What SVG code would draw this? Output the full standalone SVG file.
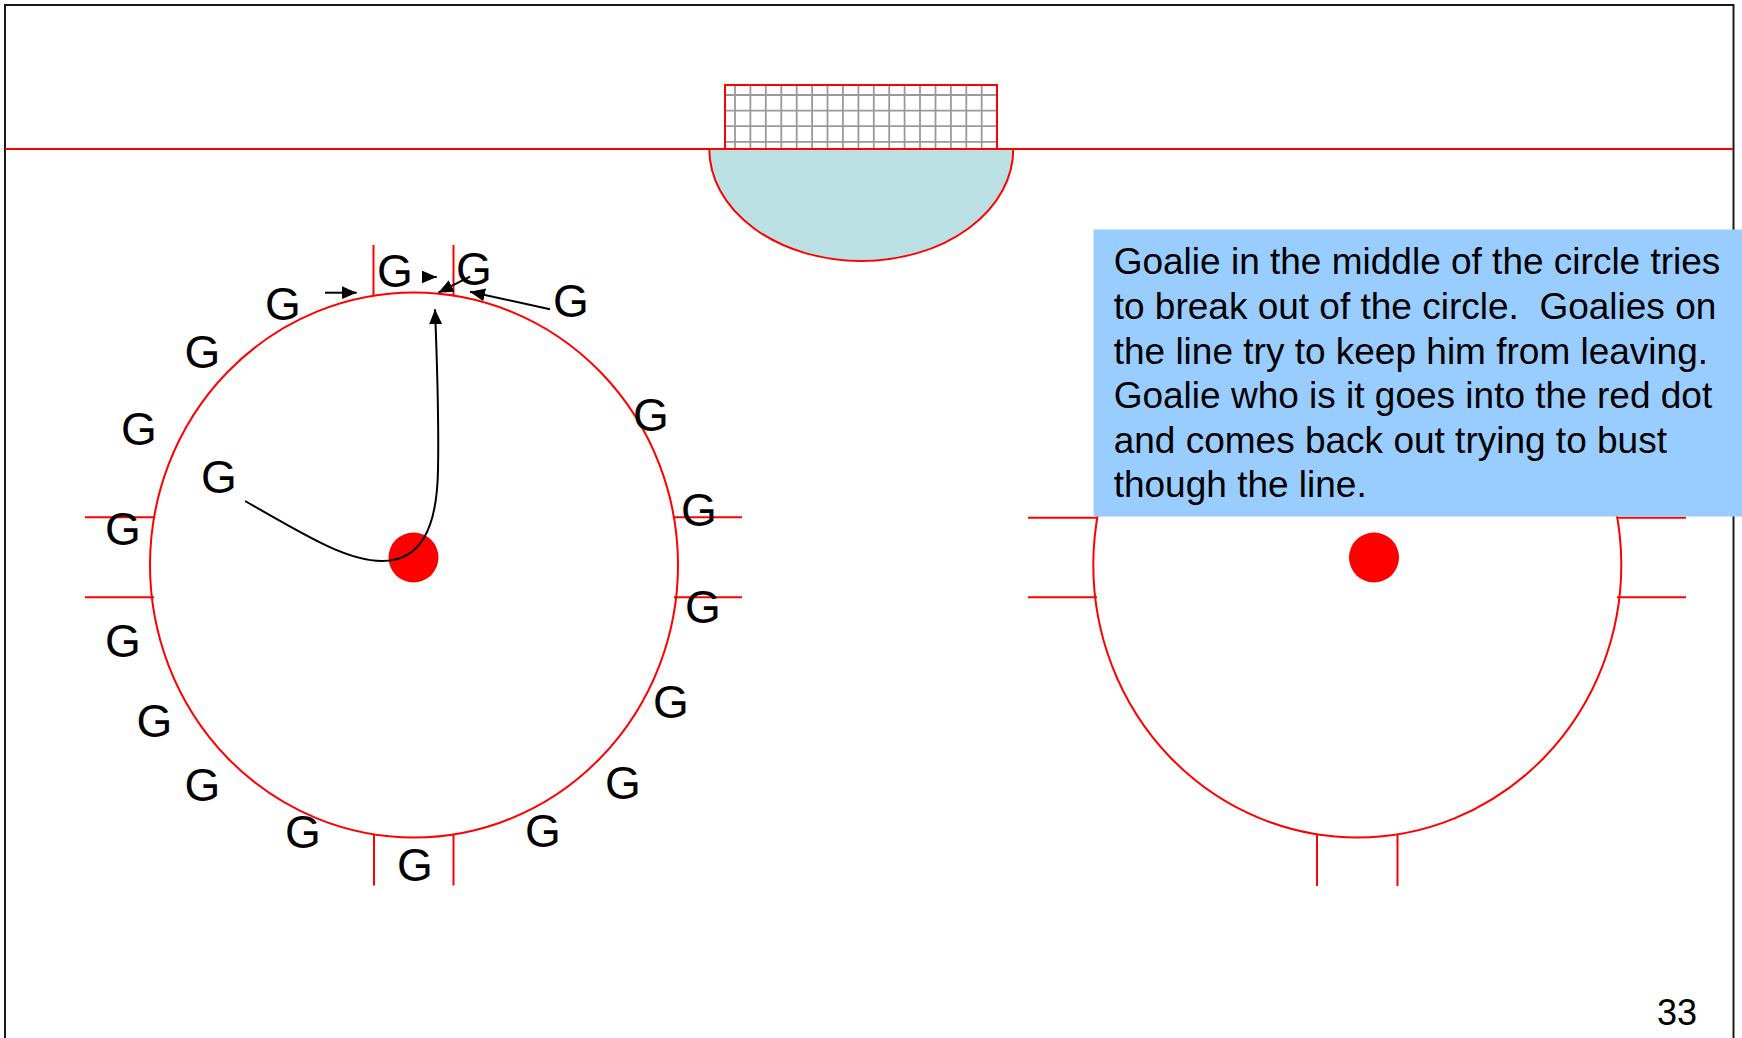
<svg xmlns="http://www.w3.org/2000/svg" width="1742" height="1038" viewBox="0 0 1742 1038">
<style>
.red{fill:none;stroke:#FF0000;stroke-width:2}
.tick{stroke:#FF0000;stroke-width:2;fill:none}
.grid{stroke:#9a9a9a;stroke-width:1.8}
.g{font-family:"Liberation Sans",Arial,sans-serif;font-size:46px;fill:#000;text-anchor:middle}
.note{font-family:"Liberation Sans",Arial,sans-serif;font-size:37px;fill:#000;white-space:pre}
.arr{fill:none;stroke:#000;stroke-width:2}
</style>
<defs>
<marker id="ah" markerUnits="userSpaceOnUse" viewBox="0 0 15 13" refX="15" refY="6.5" markerWidth="15" markerHeight="13" orient="auto">
<path d="M0,0 L15,6.5 L0,13 z" fill="#000"/>
</marker>
</defs>
<rect width="1742" height="1038" fill="#fff"/>
<path d="M5,1040 V5 H1733.5 V1040" fill="none" stroke="#1a1a1a" stroke-width="2"/>
<g id="crease">
<path d="M709.3,149 A152,112 0 0 0 1013.3,149 Z" fill="#BBE0E3" stroke="#FF0000" stroke-width="2"/>
</g>
<line x1="5" y1="149" x2="1733" y2="149" class="tick"/>
<g id="net">
<rect x="725" y="85" width="272" height="64" fill="#fff"/>
<g class="grid">
<line x1="735" y1="85" x2="735" y2="149"/><line x1="750.4" y1="85" x2="750.4" y2="149"/><line x1="765.8" y1="85" x2="765.8" y2="149"/><line x1="781.3" y1="85" x2="781.3" y2="149"/><line x1="796.7" y1="85" x2="796.7" y2="149"/><line x1="812.1" y1="85" x2="812.1" y2="149"/><line x1="827.5" y1="85" x2="827.5" y2="149"/><line x1="842.9" y1="85" x2="842.9" y2="149"/><line x1="858.4" y1="85" x2="858.4" y2="149"/><line x1="873.8" y1="85" x2="873.8" y2="149"/><line x1="889.2" y1="85" x2="889.2" y2="149"/><line x1="904.6" y1="85" x2="904.6" y2="149"/><line x1="920" y1="85" x2="920" y2="149"/><line x1="935.5" y1="85" x2="935.5" y2="149"/><line x1="950.9" y1="85" x2="950.9" y2="149"/><line x1="966.3" y1="85" x2="966.3" y2="149"/><line x1="981.7" y1="85" x2="981.7" y2="149"/>
<line x1="725" y1="95" x2="997" y2="95"/><line x1="725" y1="110.6" x2="997" y2="110.6"/><line x1="725" y1="126.2" x2="997" y2="126.2"/><line x1="725" y1="141.8" x2="997" y2="141.8"/>
</g>
<rect x="725" y="85" width="272" height="64" class="red"/>
</g>
<g id="left-circle">
<ellipse cx="414" cy="565" rx="264" ry="272.5" class="red"/>
<line x1="85" y1="517.3" x2="154" y2="517.3" class="tick"/>
<line x1="85" y1="597.3" x2="154" y2="597.3" class="tick"/>
<line x1="674" y1="517.3" x2="742" y2="517.3" class="tick"/>
<line x1="674" y1="597.3" x2="742" y2="597.3" class="tick"/>
<line x1="373.5" y1="245" x2="373.5" y2="296" class="tick"/>
<line x1="453.5" y1="245" x2="453.5" y2="296" class="tick"/>
<line x1="374" y1="835" x2="374" y2="885.5" class="tick"/>
<line x1="453.5" y1="835" x2="453.5" y2="885.5" class="tick"/>
<circle cx="413.5" cy="557.5" r="25" fill="#FF0000"/>
</g>
<g id="right-circle">
<ellipse cx="1357.3" cy="565" rx="264" ry="272.5" class="red"/>
<line x1="1028" y1="517.7" x2="1097" y2="517.7" class="tick"/>
<line x1="1028" y1="597.3" x2="1097" y2="597.3" class="tick"/>
<line x1="1617" y1="517.7" x2="1686" y2="517.7" class="tick"/>
<line x1="1617" y1="597.3" x2="1686" y2="597.3" class="tick"/>
<line x1="1317" y1="835" x2="1317" y2="886" class="tick"/>
<line x1="1397.5" y1="835" x2="1397.5" y2="886" class="tick"/>
<circle cx="1374" cy="557.5" r="25" fill="#FF0000"/>
</g>
<g id="goalies">
<text class="g" x="283" y="320">G</text>
<text class="g" x="395" y="286.7">G</text>
<text class="g" x="474" y="285">G</text>
<text class="g" x="571" y="316.7">G</text>
<text class="g" x="202.5" y="368.3">G</text>
<text class="g" x="139" y="445">G</text>
<text class="g" x="219" y="493.3">G</text>
<text class="g" x="123" y="545">G</text>
<text class="g" x="123" y="657">G</text>
<text class="g" x="154.5" y="736.7">G</text>
<text class="g" x="202.5" y="800.7">G</text>
<text class="g" x="303" y="848.3">G</text>
<text class="g" x="651" y="431">G</text>
<text class="g" x="699" y="526">G</text>
<text class="g" x="703" y="623">G</text>
<text class="g" x="671" y="718">G</text>
<text class="g" x="623" y="798.7">G</text>
<text class="g" x="543" y="846.7">G</text>
<text class="g" x="415" y="881">G</text>
</g>
<g id="connectors">
<path class="arr" d="M325,292.7 L356.7,292.7" marker-end="url(#ah)"/>
<path class="arr" d="M423,277 L436.7,277" marker-end="url(#ah)"/>
<path class="arr" d="M470,276.7 L438.3,292.7" marker-end="url(#ah)"/>
<path class="arr" d="M550,309.3 L470,291.7" marker-end="url(#ah)"/>
<path class="arr" d="M245,501 C300,532 345,561 382,561 C420,561 437,530 438,470 C439,420 437,360 435,309.3" marker-end="url(#ah)"/>
</g>
<g id="note">
<rect x="1093.5" y="229.5" width="649" height="287" fill="#99CCFF"/>
<text class="note" x="1113.7" y="274.3">Goalie in the middle of the circle tries</text>
<text class="note" x="1113.7" y="319.3" xml:space="preserve">to break out of the circle.  Goalies on</text>
<text class="note" x="1113.7" y="364.3">the line try to keep him from leaving.</text>
<text class="note" x="1113.7" y="408.3">Goalie who is it goes into the red dot</text>
<text class="note" x="1113.7" y="453.3">and comes back out trying to bust</text>
<text class="note" x="1113.7" y="496.7">though the line.</text>
</g>
<text x="1697" y="1025" font-family="Liberation Sans, Arial, sans-serif" font-size="36" text-anchor="end">33</text>
</svg>
